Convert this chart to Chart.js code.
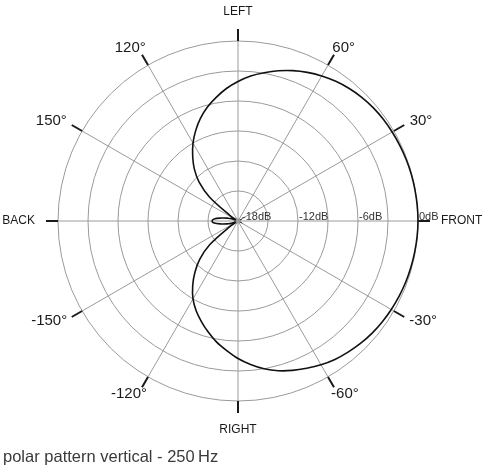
<!DOCTYPE html>
<html>
<head>
<meta charset="utf-8">
<script src="https://cdn.jsdelivr.net/npm/chart.js@4.4.1/dist/chart.umd.min.js"></script>
<style>
  html, body { margin: 0; padding: 0; background: #fff; }
  #wrap { position: relative; width: 486px; height: 466px; }
  #caption {
    position: absolute; left: 3px; top: 448px;
    font: 16.5px "Liberation Sans", Arial, sans-serif; line-height: 16px;
    color: #3a3a3a; white-space: nowrap;
  }
</style>
</head>
<body>
<div id="wrap">
  <canvas id="polar"></canvas>
  <div id="caption">polar pattern vertical - 250&#8201;Hz</div>
</div>
<script>
'use strict';

// angles in degrees, listed clockwise from FRONT (radar order)
var angles = [
	0, -5, -10, -15, -20, -25, -30, -35, -40, -45, -50, -55,
	-60, -65, -70, -75, -80, -85, -90, -95, -100, -105, -110, -115,
	-120, -125, -130, -135, -140, -145, -150, -155, -160, -165, -170, -175,
	180, 175, 170, 165, 160, 155, 150, 145, 140, 135, 130, 125,
	120, 115, 110, 105, 100, 95, 90, 85, 80, 75, 70, 65,
	60, 55, 50, 45, 40, 35, 30, 25, 20, 15, 10, 5
];

// level in dB at each angle above
var levels = [
	0, -0.02, -0.06, -0.1, -0.15, -0.22, -0.3, -0.4, -0.52, -0.68, -0.88, -1.1,
	-1.4, -1.75, -2.1, -2.5, -3.0, -3.6, -4.25, -5.0, -5.7, -6.5, -7.3, -8.1,
	-9.0, -10.1, -11.3, -12.6, -14.3, -17.0, -18, -18, -17.3, -16.9, -16.3, -15.6,
	-15.4, -15.6, -16.3, -16.9, -17.3, -18, -18, -17.0, -14.3, -12.5, -11.2, -10.1,
	-9.0, -8.0, -7.05, -6.2, -5.45, -4.7, -4.05, -3.45, -2.95, -2.45, -2.0, -1.6,
	-1.25, -0.95, -0.7, -0.5, -0.36, -0.26, -0.2, -0.14, -0.09, -0.05, -0.03, -0.01
];

// labels round the rim
var rimAngles = [0, 30, 60, 90, 120, 150, 180, -150, -120, -90, -60, -30];
var rimLabels = ['FRONT', '30°', '60°', 'LEFT', '120°', '150°', 'BACK', '-150°', '-120°', 'RIGHT', '-60°', '-30°'];
var cardinal = [true, false, false, true, false, false, true, false, false, true, false, false];

// radial tick labels
var dbTicks = [-18, -12, -6, 0];

var FONT = '"Liberation Sans", Arial, sans-serif';

var decor = {
	id: 'decor',
	afterDatasetsDraw: function ( chart ) {
		var s = chart.scales.r;
		var ctx = chart.ctx;
		var R = s.drawingArea;

		ctx.save();

		// centre dot
		ctx.fillStyle = '#9a9a9a';
		ctx.beginPath();
		ctx.arc( s.xCenter, s.yCenter, 2.5, 0, Math.PI * 2 );
		ctx.fill();

		// dB labels along the front axis
		ctx.fillStyle = '#333';
		ctx.font = '11px ' + FONT;
		ctx.textAlign = 'left';
		ctx.textBaseline = 'alphabetic';
		dbTicks.forEach( function ( v ) {
			var d = s.getDistanceFromCenterForValue( v );
			ctx.fillText( v + 'dB', s.xCenter + Math.max( d, 3 ) + 1, s.yCenter - 1.5 );
		} );

		// rim ticks and labels
		rimAngles.forEach( function ( a, k ) {
			var i = angles.indexOf( a );
			var p0 = s.getPointPosition( i, R );
			var p1 = s.getPointPosition( i, R + 12 );
			ctx.strokeStyle = '#1a1a1a';
			ctx.lineWidth = 2;
			ctx.beginPath();
			ctx.moveTo( p0.x, p0.y );
			ctx.lineTo( p1.x, p1.y );
			ctx.stroke();

			var big = ! cardinal[k];
			ctx.font = ( big ? '15px ' : '12px ' ) + FONT;
			ctx.fillStyle = '#1a1a1a';
			ctx.textAlign = 'center';
			ctx.textBaseline = 'middle';
			var w = ctx.measureText( rimLabels[k] ).width;
			var ang = s.getIndexAngle( i ) - Math.PI / 2;
			var c = Math.cos( ang ), sn = Math.sin( ang );
			var p = s.getPointPosition( i, R + ( big ? 20 : 23 ) );
			ctx.fillText( rimLabels[k], p.x + c * w / 2, p.y + sn * ( big ? 0 : 6 ) );
		} );

		ctx.restore();
	}
};

new Chart( document.getElementById( 'polar' ), {
	type: 'radar',
	data: {
		labels: angles,
		datasets: [
			{
				data: levels,
				borderColor: '#111',
				borderWidth: 1.6,
				fill: false,
				pointRadius: 0,
				tension: 0.33,
				clip: false,
			},
		],
	},
	options: {
		responsive: true,
		maintainAspectRatio: false,
		animation: false,
		events: [],
		layout: {
			padding: { left: 58, top: 41, right: 68, bottom: 65 },
		},
		elements: {
			line: { capBezierPoints: false },
		},
		plugins: {
			legend: { display: false },
			tooltip: { enabled: false },
		},
		scales: {
			r: {
				min: -18,
				max: 0,
				startAngle: 90,
				ticks: { display: false, stepSize: 3 },
				pointLabels: { display: false },
				grid: { circular: true, color: '#9a9a9a', lineWidth: 1 },
				angleLines: {
					color: '#9a9a9a',
					lineWidth: function ( c ) {
						return c.index % 6 === 0 ? 1 : 0;
					},
				},
			},
		},
	},
	plugins: [ decor ],
} );
</script>
</body>
</html>
